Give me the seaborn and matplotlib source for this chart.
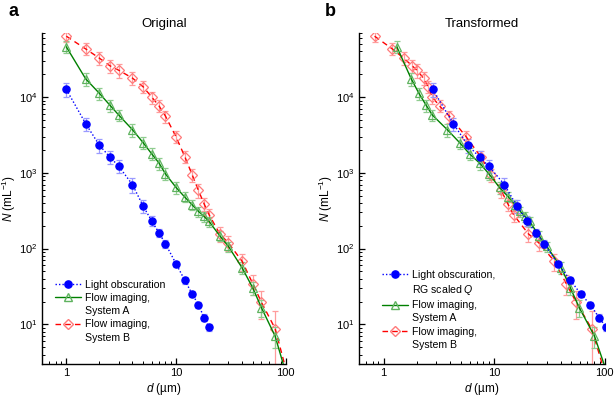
import matplotlib
matplotlib.use("Agg")
import matplotlib.pyplot as plt
from matplotlib.lines import Line2D
from matplotlib.ticker import LogLocator, NullFormatter
import seaborn as sns

# --- data (d in µm, N in per mL) ---
# panel a, original sizes
lo_d = [1, 1.5, 2, 2.5, 3, 4, 5, 6, 7, 8, 10, 12, 14, 16, 18, 20]
fa_d = [1, 1.5, 2, 2.5, 3, 4, 5, 6, 7, 8, 10, 12, 14, 16, 18, 20, 25, 30, 40, 50, 60, 80, 100]
fb_d = [1, 1.5, 2, 2.5, 3, 4, 5, 6, 7, 8, 10, 12, 14, 16, 18, 20, 25, 30, 40, 50, 60, 80, 100]

# panel b, transformed sizes
lo_d_t = [2.79, 4.27, 5.8, 7.4, 8.97, 12.4, 16.0, 20.0, 23.9, 28.3, 37.8, 49, 60.7, 74.3, 89, 104]
fa_d_t = [1.32, 1.78, 2.09, 2.43, 2.76, 3.77, 4.87, 6.0, 7.4, 8.97, 11.2, 13.5, 15.5, 17.3, 19.0,
          21.0, 25.5, 30.0, 40.6, 49, 59, 81, 105]
fb_d_t = [0.83, 1.2, 1.52, 1.82, 2.0, 2.3, 2.52, 2.76, 3.21, 3.93, 5.6, 7.55, 9.44, 11.6, 13.3,
          15.0, 20.4, 25.4, 35.2, 44.9, 55.3, 76.3, 98]

# counts (same in both panels)
lo_n = [12600, 4460, 2310, 1610, 1225, 700, 368, 231, 161, 116, 63, 38.3, 25.3, 18.2, 12.3, 9.1]
fa_n = [45900, 17400, 11200, 7780, 5800, 3715, 2510, 1780, 1343, 970, 641, 479, 379, 310, 266,
        228, 148, 107, 55.7, 30.4, 16.6, 7.0, 2.3]
fb_n = [63500, 43200, 32600, 25800, 22600, 17800, 13700, 10000, 7630, 5620, 2980, 1640, 950, 585,
        391, 280, 157, 119, 68, 34.6, 19.6, 8.8, 2.6]

# relative error bars
lo_err = [0.2, 0.2, 0.22, 0.2, 0.2, 0.22, 0.2, 0.15, 0.12, 0.12, 0.1, 0.1, 0.1, 0.1, 0.1, 0.1]
fa_err = [0.18, 0.2, 0.18, 0.18, 0.18, 0.2, 0.18, 0.18, 0.18, 0.18, 0.18, 0.15, 0.15, 0.15, 0.15,
          0.15, 0.15, 0.15, 0.18, 0.2, 0.25, 0.3, 0]
fb_err = [0.15, 0.18, 0.2, 0.2, 0.2, 0.2, 0.18, 0.18, 0.18, 0.18, 0.18, 0.18, 0.2, 0.2, 0.2,
          0.2, 0.22, 0.22, 0.25, 0.3, 0.4, 0.7, 0]

sns.set_theme(style="ticks")
plt.rcParams["font.family"] = ["Liberation Sans", "DejaVu Sans"]
plt.rcParams["mathtext.fontset"] = "custom"
plt.rcParams["mathtext.rm"] = "Liberation Sans"
plt.rcParams["mathtext.it"] = "Liberation Sans:italic"
plt.rcParams["mathtext.default"] = "regular"
for key in ["text.color", "axes.labelcolor", "xtick.color", "ytick.color", "axes.edgecolor"]:
    plt.rcParams[key] = "black"

BLUE, GREEN, RED = "#0000ff", "#008000", "#ff0000"
BLUE_E, GREEN_E, RED_E = "#9a9aff", "#8fcc8f", "#ff9c9c"
MS_O, MS_T, MS_D = 5.2, 6.2, 5.2

fig = plt.figure(figsize=(6.14, 4.0), dpi=100)
ax_a = fig.add_axes([0.0684, 0.09, 0.397, 0.8275])
ax_b = fig.add_axes([0.5847, 0.09, 0.40, 0.8275])


def draw_series(ax, d, n, err, color, ecolor, ls, marker, mfc, mec, ms, npts):
    yerr = [v * e for v, e in zip(n[:npts], err[:npts])]
    ax.errorbar(d[:npts], n[:npts], yerr=yerr, fmt="none", ecolor=ecolor,
                elinewidth=0.9, capsize=2.5, capthick=0.9, zorder=2)
    sns.lineplot(x=d, y=n, ax=ax, color=color, linestyle=ls, linewidth=1.0,
                 marker=marker, markersize=ms, markerfacecolor=mfc,
                 markeredgecolor=mec, markeredgewidth=0.9,
                 markevery=list(range(npts)), zorder=3, sort=False)


def panel(ax, lod, fad, fbd, title, letter, lo_label, leg_anchor):
    draw_series(ax, fbd, fb_n, fb_err, RED, RED_E, (0, (4, 3)), "D", "none", "#ff7a7a", MS_D, 22)
    draw_series(ax, fad, fa_n, fa_err, GREEN, GREEN_E, "-", "^", "none", "#5fb35f", MS_T, 22)
    draw_series(ax, lod, lo_n, lo_err, BLUE, BLUE_E, (0, (1, 1.5)), "o", BLUE, BLUE, MS_O, 16)

    ax.set_xscale("log")
    ax.set_yscale("log")
    ax.set_xlim(0.6, 100)
    ax.set_ylim(3, 7e4)
    sns.despine(ax=ax)
    for s in ["left", "bottom"]:
        ax.spines[s].set_linewidth(1.0)
        ax.spines[s].set_color("black")
    ax.xaxis.set_minor_locator(LogLocator(base=10, subs=range(2, 10)))
    ax.yaxis.set_minor_locator(LogLocator(base=10, subs=range(2, 10)))
    ax.xaxis.set_minor_formatter(NullFormatter())
    ax.set_xticks([1, 10, 100])
    ax.set_xticklabels(["1", "10", "100"])
    ax.set_yticks([10, 100, 1000, 10000])
    ax.set_yticklabels(["$10^{1}$", "$10^{2}$", "$10^{3}$", "$10^{4}$"])
    ax.tick_params(which="major", direction="in", length=4, width=0.9, labelsize=8, pad=3,
                   color="black", labelcolor="black")
    ax.tick_params(which="minor", direction="in", length=2, width=0.7, color="black")
    ax.set_xlabel("$\\it{d}$ (µm)", fontsize=8.5, labelpad=2, color="black")
    ax.set_ylabel("$\\it{N}$ (mL$^{-1}$)", fontsize=8.5, labelpad=1, color="black")
    ax.set_title(title, fontsize=9.5, pad=4, color="black")
    ax.grid(False)

    # legend with the handle next to the first line of each label
    blank = Line2D([], [], color="none")
    h_lo = Line2D([], [], color=BLUE, linestyle=(0, (1, 1.5)), linewidth=1.0, marker="o",
                  markersize=MS_O, markerfacecolor=BLUE, markeredgecolor=BLUE)
    h_fa = Line2D([], [], color=GREEN, linestyle="-", linewidth=1.0, marker="^",
                  markersize=MS_T, markerfacecolor="none", markeredgecolor="#5fb35f")
    h_fb = Line2D([], [], color=RED, linestyle=(0, (4, 3)), linewidth=1.0, marker="D",
                  markersize=MS_D, markerfacecolor="none", markeredgecolor="#ff7a7a")
    handles, labels = [h_lo], [lo_label[0]]
    for extra in lo_label[1:]:
        handles.append(blank)
        labels.append(extra)
    handles += [h_fa, blank, h_fb, blank]
    labels += ["Flow imaging,", "System A", "Flow imaging,", "System B"]
    leg = ax.legend(handles, labels, loc="upper left", bbox_to_anchor=leg_anchor,
                    frameon=False, fontsize=7.6, handlelength=2.5, handletextpad=0.35,
                    labelspacing=0.3, borderpad=0, borderaxespad=0)
    for t in leg.get_texts():
        t.set_color("black")

    fig.text(ax.get_position().x0 - 0.055, 0.97, letter, fontsize=13, fontweight="bold",
             va="center", ha="left", color="black")


panel(ax_a, lo_d, fa_d, fb_d, "Original", "a", ["Light obscuration"], (0.053, 0.254))
panel(ax_b, lo_d_t, fa_d_t, fb_d_t, "Transformed", "b",
      ["Light obscuration,", "RG scaled $\\it{Q}$"], (0.092, 0.284))

fig.savefig("out.png", dpi=100)
